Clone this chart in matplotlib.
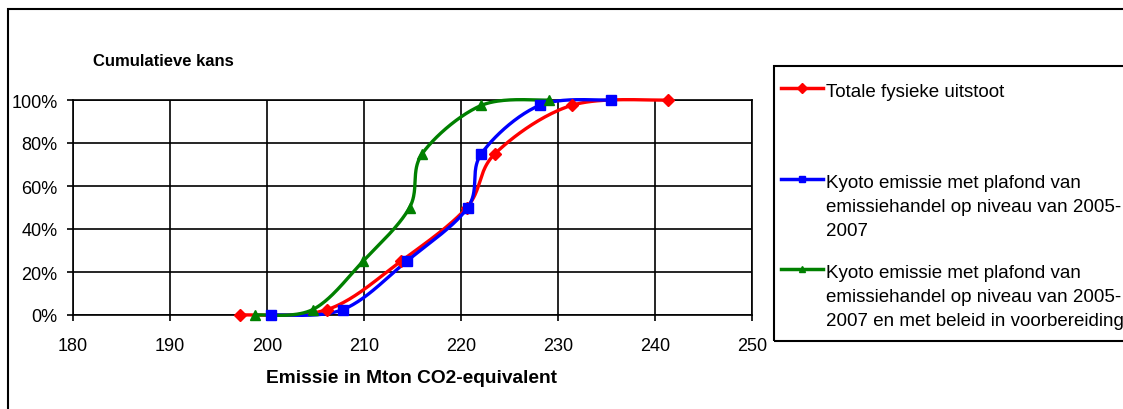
import numpy as np
import matplotlib
matplotlib.use("Agg")
import matplotlib.pyplot as plt
from matplotlib.lines import Line2D
from matplotlib.patches import Rectangle
from matplotlib.ticker import FuncFormatter

plt.rcParams['font.family'] = ['Liberation Sans', 'DejaVu Sans']

# cumulatieve kans per punt (fractie)
kans = [0.0, 0.025, 0.25, 0.50, 0.75, 0.975, 1.0]

# emissie (Mton CO2-eq) per scenario
totaal = [197.2, 206.2, 213.8, 220.6, 223.5, 231.4, 241.3]
kyoto = [200.4, 207.8, 214.4, 220.7, 222.1, 228.1, 235.5]
kyoto_beleid = [198.8, 204.7, 209.9, 214.7, 216.0, 222.1, 229.1]

labels = [
    "Totale fysieke uitstoot",
    "Kyoto emissie met plafond van\nemissiehandel op niveau van 2005-\n2007",
    "Kyoto emissie met plafond van\nemissiehandel op niveau van 2005-\n2007 en met beleid in voorbereiding",
]
colors = ["#ff0000", "#0000ff", "#008000"]
markers = ["D", "s", "^"]
msizes = [6.5, 6.5, 7.5]

x_ticks = [180, 190, 200, 210, 220, 230, 240, 250]
y_ticks = [0, 0.2, 0.4, 0.6, 0.8, 1.0]

W, H = 1123, 410


def fx(px):
    return px / W


def fy(py):
    return 1 - py / H


def smooth(x, y, n=40):
    # Bezier-smoothing zoals in spreadsheet-grafieken
    p = np.column_stack([x, y]).astype(float)
    ext = np.vstack([p[0], p, p[-1]])
    out = []
    for i in range(len(p) - 1):
        p0, p1, p2, p3 = ext[i], ext[i + 1], ext[i + 2], ext[i + 3]
        c1 = p1 + (p2 - p0) / 6
        c2 = p2 - (p3 - p1) / 6
        t = np.linspace(0, 1, n)[:, None]
        seg = ((1 - t) ** 3) * p1 + 3 * ((1 - t) ** 2) * t * c1 + 3 * (1 - t) * t ** 2 * c2 + t ** 3 * p2
        out.append(seg if i == 0 else seg[1:])
    out = np.vstack(out)
    return out[:, 0], out[:, 1]


fig = plt.figure(figsize=(W / 100, H / 100), dpi=100)

# buitenkader
fig.add_artist(Rectangle((fx(7.5), fy(430)), 1.2, fy(10) - fy(430), transform=fig.transFigure,
                         fill=False, edgecolor="black", linewidth=1.5))

ax = fig.add_axes([fx(73), fy(316), fx(752) - fx(73), fy(101) - fy(316)])

for xs, c, m, ms in zip([totaal, kyoto, kyoto_beleid], colors, markers, msizes):
    sx, sy = smooth(xs, kans)
    ax.plot(sx, sy, color=c, lw=2.4, solid_capstyle="round", clip_on=False, zorder=3)
    ax.plot(xs, kans, linestyle="none", marker=m, color=c, markersize=ms, clip_on=False, zorder=4)

ax.set_xlim(180, 250)
ax.set_ylim(0, 1)
ax.set_xticks(x_ticks)
ax.set_yticks(y_ticks)
ax.yaxis.set_major_formatter(FuncFormatter(lambda v, _: f"{v * 100:.0f}%"))
ax.grid(True, color="black", linewidth=1.2)
ax.set_axisbelow(True)
for s in ax.spines.values():
    s.set_linewidth(1.2)
ax.tick_params(direction="out", length=4, width=1.2, labelsize=13, colors="black")
ax.tick_params(axis="x", pad=12)
ax.tick_params(axis="y", pad=7)

fig.text(fx(93), fy(62), "Cumulatieve kans", fontsize=12, fontweight="bold", va="center", ha="left")
fig.text(fx(412), fy(379), "Emissie in Mton CO2-equivalent", fontsize=13.8, fontweight="bold",
         va="center", ha="center")

# legenda
fig.add_artist(Rectangle((fx(774), fy(342)), 1.0, fy(67) - fy(342), transform=fig.transFigure,
                         fill=False, edgecolor="black", linewidth=1.5))
first_baselines = [97, 188, 278]
line_step = 24
for lab, c, m, base in zip(labels, colors, markers, first_baselines):
    hy = fy(base - 8)
    fig.add_artist(Line2D([fx(781), fx(823)], [hy, hy], color=c, lw=2.5, transform=fig.transFigure))
    fig.add_artist(Line2D([fx(802)], [hy], marker=m, color=c, markersize=5, transform=fig.transFigure))
    for k, line in enumerate(lab.split("\n")):
        fig.text(fx(826), fy(base + k * line_step), line, fontsize=13.5, va="baseline", ha="left")

fig.savefig("out.png", dpi=100)
